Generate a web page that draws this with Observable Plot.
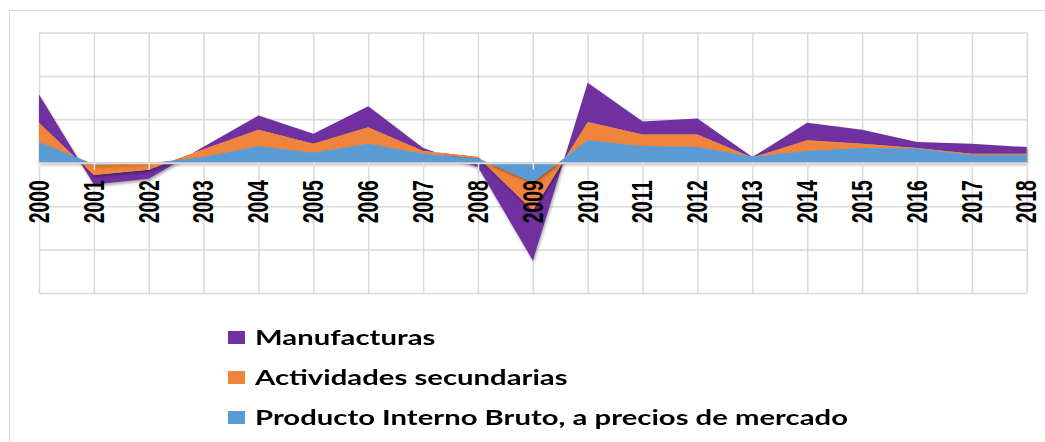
<!DOCTYPE html>
<html><head><meta charset="utf-8">
<script src="https://cdn.jsdelivr.net/npm/d3@7"></script>
<script src="https://cdn.jsdelivr.net/npm/@observablehq/plot@0.6"></script>
<style>
html,body{margin:0;padding:0;background:#fff;overflow:hidden;width:1045px;height:442px;}
#frame{position:absolute;left:9px;top:10px;width:1100px;height:500px;border:1.5px solid #d9d9d9;box-sizing:border-box;}
#chart{position:absolute;left:0;top:0;}
#legend{position:absolute;left:228px;top:326px;font-family:Lato,"Open Sans",sans-serif;font-weight:700;font-size:20px;color:#000;}
.item{position:absolute;left:0;height:40px;width:700px;}
.sw{position:absolute;left:0;top:5px;width:17px;height:12.5px;}
.lab{position:absolute;left:27px;top:-1px;line-height:24px;white-space:nowrap;transform-origin:0 0;}
</style></head><body>
<div id="frame"></div>
<div id="chart"></div>
<div id="legend"></div>
<script>
const years = [2000,2001,2002,2003,2004,2005,2006,2007,2008,2009,2010,2011,2012,2013,2014,2015,2016,2017,2018];
const yearLabels = years.map(String);
// Series values (Excel stacked area, cumulative)
const pib          = [4.8,-0.4,-0.2,1.3,3.8,2.3,4.4,2.1,1.0,-4.5,5.2,3.8,3.6,1.4,2.7,3.4,3.2,1.8,1.8];
const secundarias  = [4.4,-2.4,-1.4,1.8,3.8,2.1,3.8,0.6,0.3,-6.5,4.2,2.7,2.9,-0.2,2.5,1.0,0.2,0.3,0.3];
const manufacturas = [6.5,-2.2,-2.1,0.6,3.3,2.3,4.8,0.7,-2.3,-11.5,9.0,3.0,3.7,0.1,4.0,3.2,1.4,2.3,1.5];
const seriesNames  = ["Producto Interno Bruto, a precios de mercado","Actividades secundarias","Manufacturas"];
const seriesColors = ["#5b9bd5","#f0843c","#7030a0"];
const legendOrder  = ["Manufacturas","Actividades secundarias","Producto Interno Bruto, a precios de mercado"];
const yTicks = [-30,-20,-10,0,10,20,30];

// Build Excel-style cumulative stack table
const seriesValues = [pib, secundarias, manufacturas];
const rows = [];
let prev = years.map(() => 0);
seriesValues.forEach((vals, s) => {
  const cum = vals.map((v, i) => prev[i] + v);
  years.forEach((yr, i) => rows.push({year: yr, series: seriesNames[s], y1: prev[i], y2: cum[i]}));
  prev = cum;
});

const areaFor = name => Plot.areaY(rows.filter(r => r.series === name), {x: "year", y1: "y1", y2: "y2", fill: "series", curve: "linear"});

const chart = Plot.plot({
  width: 1045, height: 300,
  marginLeft: 39, marginRight: 18.3, marginTop: 32.5, marginBottom: 7,
  x: {domain: [2000, 2018], axis: null},
  y: {domain: [-30, 30], axis: null},
  color: {domain: seriesNames, range: seriesColors},
  marks: [
    Plot.ruleY(yTicks, {stroke: "#d9d9d9", strokeWidth: 1.5}),
    Plot.ruleX(years, {stroke: "#d9d9d9", strokeWidth: 1.5}),
    areaFor(seriesNames[2]),
    areaFor(seriesNames[1]),
    areaFor(seriesNames[0]),
    Plot.ruleY([0], {stroke: "#d9d9d9", strokeWidth: 2}),
    Plot.ruleX(years, {x: d => d, y1: 0, y2: 0, insetTop: 7, stroke: "#e6e6e6", strokeWidth: 1.5}),
    Plot.text(years, {x: d => d, y: 0, text: (d, i) => yearLabels[i], rotate: -90, textAnchor: "end", lineAnchor: "middle",
      dy: 17, fontWeight: 700, fontSize: 29, fill: "#000", fontFamily: "Liberation Sans, Arial, sans-serif"})
  ]
});
chart.style.background = "transparent";
chart.querySelectorAll('g[aria-label="text"] text').forEach(t => {
  t.setAttribute("textLength", 43);
  t.setAttribute("lengthAdjust", "spacingAndGlyphs");
});
chart.querySelectorAll('g[aria-label="area"]').forEach(g => {
  g.style.filter = "drop-shadow(1.5px 2px 1.5px rgba(0,0,0,0.35))";
});
document.getElementById("chart").appendChild(chart);

// Legend (vertical list below the plot)
const legend = document.getElementById("legend");
const labs = [];
legendOrder.forEach((name, i) => {
  const item = document.createElement("div");
  item.className = "item";
  item.style.top = (i * 40) + "px";
  const sw = document.createElement("div");
  sw.className = "sw";
  sw.style.background = seriesColors[seriesNames.indexOf(name)];
  const lab = document.createElement("div");
  lab.className = "lab";
  lab.textContent = name;
  item.appendChild(sw); item.appendChild(lab);
  legend.appendChild(item);
  labs.push(lab);
});
const longest = labs[2].getBoundingClientRect().width;
const k = 593 / longest;
labs.forEach(l => l.style.transform = `scaleX(${k})`);
</script>
</body></html>
